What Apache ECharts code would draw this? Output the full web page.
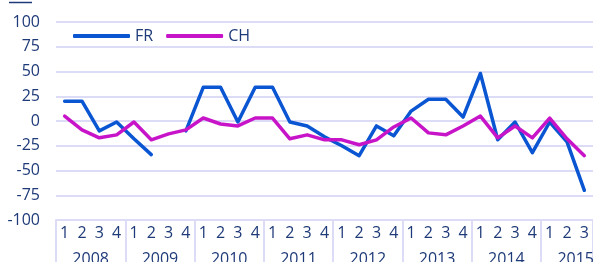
<!DOCTYPE html>
<html>
<head>
<meta charset="utf-8">
<script src="https://cdn.jsdelivr.net/npm/echarts@6/dist/echarts.min.js"></script>
<style>
  html, body { margin: 0; padding: 0; background: #fff; }
  #chart { width: 593px; height: 262px; }
</style>
</head>
<body>
<div id="chart"></div>
<script>
// quarterly values, 2008 Q1 .. 2015 Q3
const quarters = ['1','2','3','4','1','2','3','4','1','2','3','4','1','2','3','4',
  '1','2','3','4','1','2','3','4','1','2','3','4','1','2','3'];
const years = ['2008','2009','2010','2011','2012','2013','2014','2015'];
const yTicks = [-100, -75, -50, -25, 0, 25, 50, 75, 100];

const frValues = [20, 20, -10, -1, -18, -34, null, -10,
  34, 34, -1, 34, 34, -1, -5, -16,
  -25, -35, -5, -15, 10, 22, 22, 4,
  48, -19, -1, -32, -1, -21, -70];
const chValues = [5, -9, -17, -14, -1, -19, -13, -9,
  3, -3, -5, 3, 3, -18, -14, -19,
  -19, -24, -19, -6, 3, -12, -14, -5,
  5, -17, -5, -17, 3, -18, -35];

const TEXT = '#1e3a78';
const GRID = '#dcdcf6';
const FONT = '"Open Sans", "Noto Sans", sans-serif';

const chart = echarts.init(document.getElementById('chart'), null, { renderer: 'canvas' });
chart.setOption({
  animation: false,
  backgroundColor: '#fff',
  textStyle: { fontFamily: FONT },
  graphic: [{
    type: 'line',
    shape: { x1: 9, y1: 2.5, x2: 32, y2: 2.5 },
    style: { stroke: TEXT, lineWidth: 1.5 }
  }],
  legend: {
    left: 68, top: 23,
    icon: 'roundRect',
    itemWidth: 57, itemHeight: 4, itemGap: 13,
    textStyle: { color: TEXT, fontSize: 16, fontFamily: FONT },
    data: ['FR', 'CH']
  },
  grid: { left: 56, right: 0, top: 22, bottom: 42, containLabel: false, outerBoundsMode: 'none' },
  xAxis: [{
    type: 'category',
    data: quarters,
    boundaryGap: true,
    axisLine: { onZero: false, lineStyle: { color: GRID, width: 2 } },
    axisTick: {
      show: true, inside: false, length: 42,
      interval: (i) => i % 4 === 0,
      lineStyle: { color: GRID, width: 2 }
    },
    axisLabel: { color: TEXT, fontSize: 16, margin: 5, interval: 0, fontFamily: FONT },
    splitLine: { show: false }
  }, {
    type: 'value',
    min: 0, max: quarters.length, interval: 2,
    position: 'bottom',
    axisLine: { show: false, onZero: false },
    axisTick: { show: false },
    splitLine: { show: false },
    axisLabel: {
      color: TEXT, fontSize: 16, margin: 31, fontFamily: FONT,
      showMinLabel: false, showMaxLabel: false,
      formatter: (v) => (v % 4 === 2 ? years[(v - 2) / 4] : '')
    }
  }],
  yAxis: {
    type: 'value',
    min: yTicks[0], max: yTicks[yTicks.length - 1], interval: 25,
    axisLine: { show: false },
    axisTick: { show: false },
    axisLabel: { color: TEXT, fontSize: 16, margin: 16, fontFamily: FONT },
    splitLine: { lineStyle: { color: GRID, width: 2 } }
  },
  series: [{
    name: 'FR',
    type: 'line',
    data: frValues,
    symbol: 'none',
    connectNulls: false,
    lineStyle: { color: '#0a55d2', width: 3.5, join: 'round', cap: 'round' },
    itemStyle: { color: '#0a55d2' }
  }, {
    name: 'CH',
    type: 'line',
    data: chValues,
    symbol: 'none',
    lineStyle: { color: '#c814c8', width: 3.5, join: 'round', cap: 'round' },
    itemStyle: { color: '#c814c8' }
  }]
});
</script>
</body>
</html>
